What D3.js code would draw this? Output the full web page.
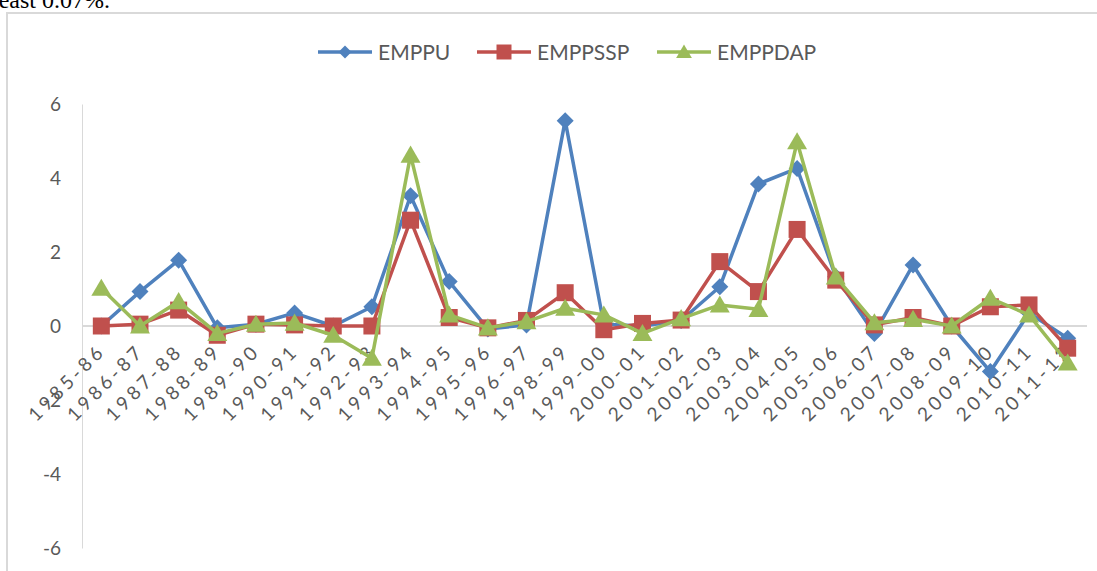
<!DOCTYPE html>
<html><head><meta charset="utf-8">
<script src="https://cdn.jsdelivr.net/npm/d3@7"></script>
<style>
html,body{margin:0;padding:0;background:#fff;overflow:hidden;}
svg{display:block;}
</style></head>
<body>
<svg id="chart" width="1097" height="571"></svg>
<script>
const categories = ["1985-86","1986-87","1987-88","1988-89","1989-90","1990-91","1991-92","1992-93","1993-94","1994-95","1995-96","1996-97","1998-99","1999-00","2000-01","2001-02","2002-03","2003-04","2004-05","2005-06","2006-07","2007-08","2008-09","2009-10","2010-11","2011-12"];
const emppu   = [0.0, 0.93, 1.78, -0.05, 0.05, 0.35, 0.0, 0.52, 3.52, 1.2, -0.08, 0.03, 5.55, 0.05, 0.0, 0.15, 1.06, 3.84, 4.26, 1.33, -0.2, 1.65, 0.0, -1.23, 0.35, -0.33];
const emppssp = [0.0, 0.05, 0.43, -0.25, 0.05, 0.03, 0.0, 0.0, 2.86, 0.23, -0.05, 0.15, 0.9, -0.1, 0.07, 0.16, 1.74, 0.93, 2.61, 1.24, 0.03, 0.23, 0.0, 0.52, 0.57, -0.6];
const emppdap = [1.02, 0.0, 0.66, -0.2, 0.05, 0.08, -0.25, -0.87, 4.62, 0.3, -0.05, 0.12, 0.48, 0.3, -0.2, 0.2, 0.57, 0.45, 4.98, 1.33, 0.09, 0.18, 0.0, 0.75, 0.3, -1.0];
const yTicks = [6, 4, 2, 0, -2, -4, -6];
const seriesNames = ["EMPPU", "EMPPSSP", "EMPPDAP"];
const seriesColors = ["#4F81BD", "#C0504D", "#9BBB59"];
const seriesMarkers = ["diamond", "square", "triangle"];

(function () {
const series = [emppu, emppssp, emppdap].map((vals, i) => ({
  name: seriesNames[i], color: seriesColors[i], marker: seriesMarkers[i],
  values: vals.map((v, j) => ({cat: categories[j], v}))
}));

const svg = d3.select("#chart");

// page text above the chart (cropped in the source image)
svg.append("text").attr("x", -8).attr("y", 8)
  .attr("font-family", "Liberation Serif").attr("font-size", 24).attr("fill", "#000")
  .text("least 0.07%.");

// chart border
svg.append("rect").attr("x", 7).attr("y", 13).attr("width", 1200).attr("height", 700)
  .attr("fill", "#fff").attr("stroke", "#d9d9d9").attr("stroke-width", 2);

const pLeft = 82, pRight = 1087, pTop = 104, pBottom = 548;
const x = d3.scalePoint().domain(categories).range([pLeft, pRight]).padding(0.5);
const y = d3.scaleLinear().domain([-6, 6]).range([pBottom, pTop]);

// y axis
const yAxis = d3.axisLeft(y).tickValues(yTicks).tickSize(0).tickPadding(0).tickFormat(d => d < 0 ? "-" + Math.abs(d) : d);
const gy = svg.append("g").attr("transform", `translate(${pLeft},0)`).call(yAxis);
gy.select(".domain").attr("stroke", "#d9d9d9").attr("stroke-width", 1);
gy.selectAll("text").attr("x", -21).attr("dy", "0.35em")
  .attr("font-family", "Lato").attr("font-size", 19).attr("fill", "#595959");

// zero line
svg.append("line").attr("x1", pLeft).attr("x2", pRight).attr("y1", y(0)).attr("y2", y(0))
  .attr("stroke", "#d9d9d9").attr("stroke-width", 2);

// x axis labels
const xAxis = d3.axisBottom(x).tickSize(0).tickPadding(0);
const gx = svg.append("g").attr("transform", `translate(0,${y(0)})`).call(xAxis);
gx.select(".domain").remove();
gx.selectAll("text")
  .attr("font-family", "Lato").attr("font-size", 19).attr("fill", "#595959")
  .attr("letter-spacing", "3.8px")
  .attr("text-anchor", "end").attr("dy", 0).attr("y", 0)
  .attr("transform", "translate(5,26) rotate(-45)");

// marker symbols
function markerPath(type, size) {
  const s = size / 2;
  if (type === "diamond") return `M0,${-s}L${s},0L0,${s}L${-s},0Z`;
  if (type === "square") return `M${-s},${-s}H${s}V${s}H${-s}Z`;
  return `M0,${-s}L${s*1.05},${s*0.8}L${-s*1.05},${s*0.8}Z`;
}
const markerSize = {diamond: 17, square: 17, triangle: 19};

const line = d3.line().x(d => x(d.cat)).y(d => y(d.v));
series.forEach(s => {
  const g = svg.append("g");
  g.append("path").datum(s.values).attr("d", line)
    .attr("fill", "none").attr("stroke", s.color).attr("stroke-width", 3.5).attr("stroke-linejoin", "round");
  g.selectAll("path.m").data(s.values).join("path").attr("class", "m")
    .attr("d", markerPath(s.marker, markerSize[s.marker]))
    .attr("transform", d => `translate(${x(d.cat)},${y(d.v)})`)
    .attr("fill", s.color);
});

// legend
const legX = [318, 477, 657];
series.forEach((s, i) => {
  const g = svg.append("g").attr("transform", `translate(${legX[i]},52)`);
  g.append("line").attr("x1", 0).attr("x2", 54).attr("stroke", s.color).attr("stroke-width", 3.5);
  g.append("path").attr("d", markerPath(s.marker, s.marker === "diamond" ? 13 : 15))
    .attr("transform", "translate(27,0)").attr("fill", s.color);
  g.append("text").attr("x", 60).attr("y", 0).attr("dy", "0.36em")
    .attr("font-family", "Lato").attr("font-size", 21).attr("fill", "#595959").text(s.name);
});
})();
</script>
</body></html>
